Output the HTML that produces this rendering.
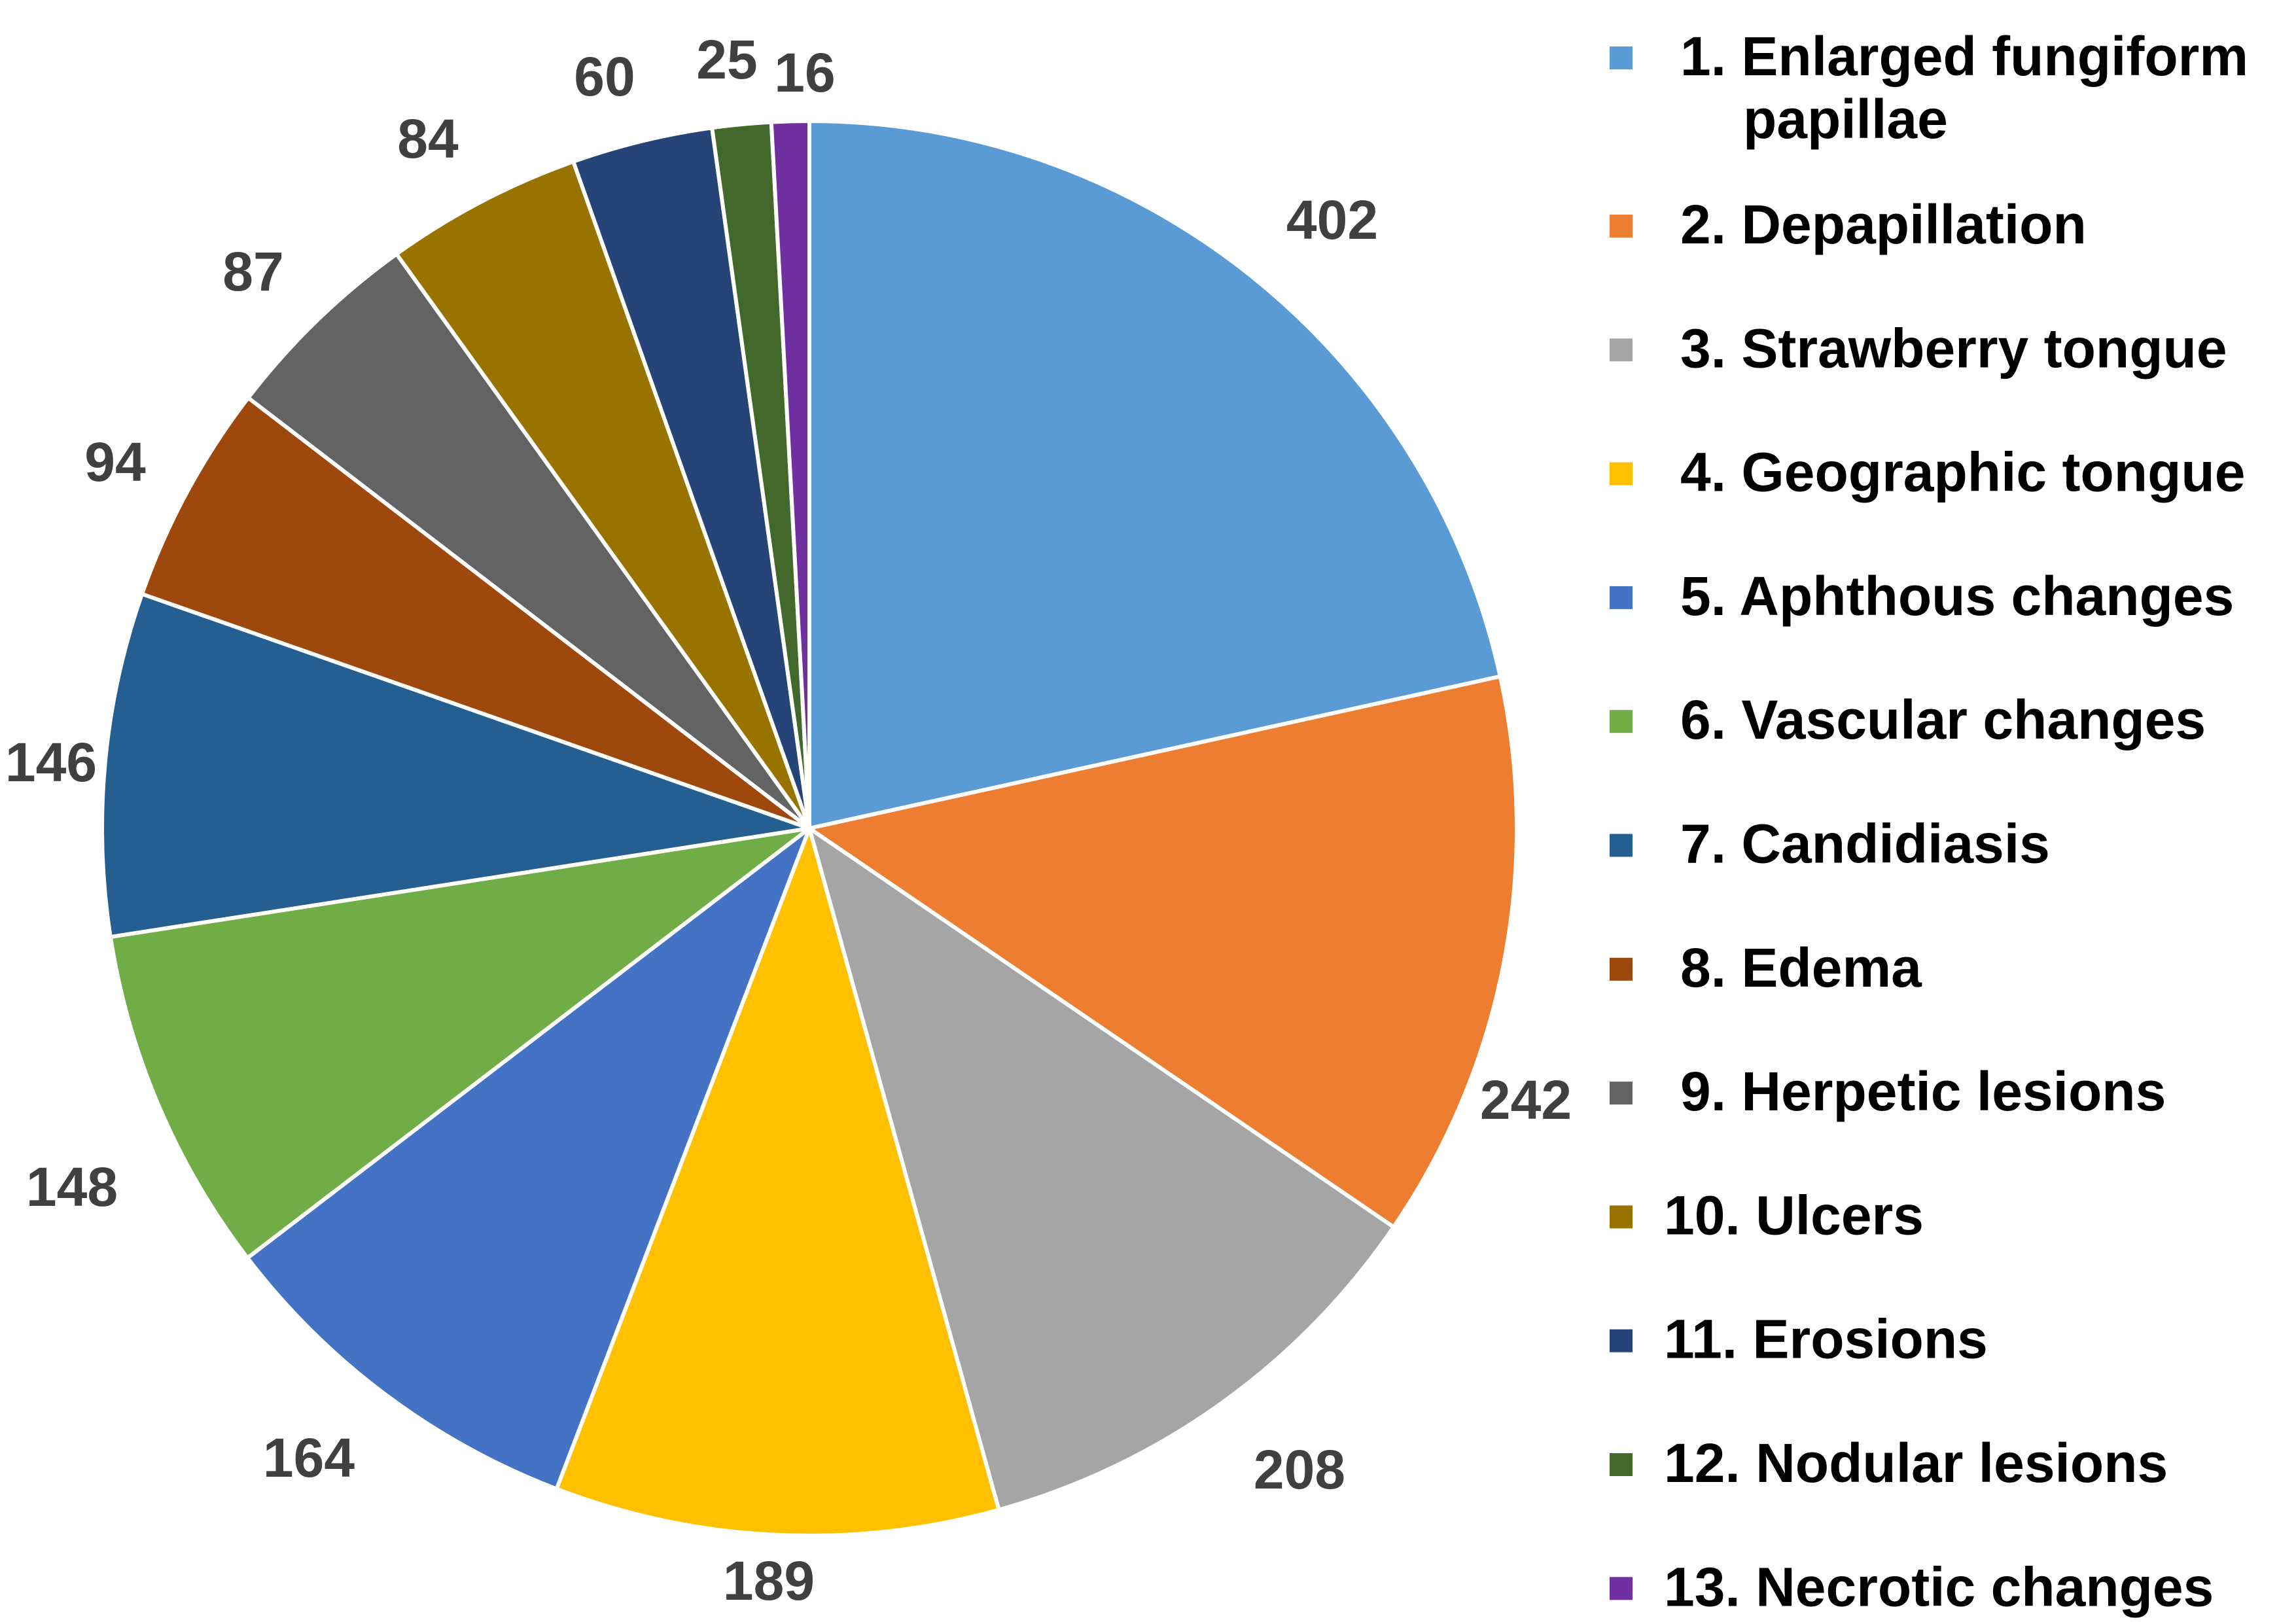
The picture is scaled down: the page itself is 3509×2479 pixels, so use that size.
<!DOCTYPE html>
<html><head><meta charset="utf-8"><style>
html,body{margin:0;padding:0;background:#fff}
svg{display:block}
.v{font-family:"Liberation Sans",Arial,sans-serif;font-weight:bold;font-size:84px;fill:#404040}
.l{font-family:"Liberation Sans",Arial,sans-serif;font-weight:bold;font-size:84px;fill:#000}
</style></head><body>
<svg id="s" width="3509" height="2479" viewBox="0 0 3509 2479" xmlns="http://www.w3.org/2000/svg">
<g id="pie"></g>
<g text-anchor="middle">
<text class="v" x="2036" y="365">402</text>
<text class="v" x="2332" y="1710">242</text>
<text class="v" x="1986" y="2275">208</text>
<text class="v" x="1175" y="2445">189</text>
<text class="v" x="472" y="2257">164</text>
<text class="v" x="110" y="1843">148</text>
<text class="v" x="78" y="1194">146</text>
<text class="v" x="176" y="735">94</text>
<text class="v" x="387" y="444">87</text>
<text class="v" x="654" y="241">84</text>
<text class="v" x="924" y="146">60</text>
<text class="v" x="1111" y="120">25</text>
<text class="v" x="1230" y="140">16</text>
</g>
<g id="leg"></g>
</svg>
<script>
var vals=[402,242,208,189,164,148,146,94,87,84,60,25,16];
var cols=["#5B9BD5","#ED7D31","#A5A5A5","#FFC000","#4472C4","#70AD47","#255E91","#9E480E","#636363","#997300","#264478","#43682B","#7030A0"];
var names=["1. Enlarged fungiform","2. Depapillation","3. Strawberry tongue","4. Geographic tongue","5. Aphthous changes","6. Vascular changes","7. Candidiasis","8. Edema","9. Herpetic lesions","10. Ulcers","11. Erosions","12. Nodular lesions","13. Necrotic changes"];
var tot=vals.reduce(function(a,b){return a+b},0);
var cx=1237,cy=1266,r=1081,a=0,h="";
for(var i=0;i<vals.length;i++){
 var a2=a+vals[i]/tot*2*Math.PI;
 var x1=cx+r*Math.sin(a),y1=cy-r*Math.cos(a),x2=cx+r*Math.sin(a2),y2=cy-r*Math.cos(a2);
 var lg=(a2-a)>Math.PI?1:0;
 h+='<path d="M'+cx+' '+cy+' L'+x1+' '+y1+' A'+r+' '+r+' 0 '+lg+' 1 '+x2+' '+y2+' Z" fill="'+cols[i]+'" stroke="#fff" stroke-width="6" stroke-linejoin="round"/>';
 a=a2;
}
document.getElementById("pie").innerHTML=h;
var g="";
for(var i=0;i<13;i++){
 var base=(i==0)?115:372+(i-1)*189.3;
 var c=base-27;
 g+='<rect x="2460" y="'+(c-17)+'" width="35" height="35" fill="'+cols[i]+'"/>';
 var tx=i>=9?2543:2568;
 g+='<text class="l" x="'+tx+'" y="'+base+'">'+names[i]+'</text>';
}
g+='<text class="l" x="2664" y="211">papillae</text>';
document.getElementById("leg").innerHTML=g;
</script>
</body></html>
